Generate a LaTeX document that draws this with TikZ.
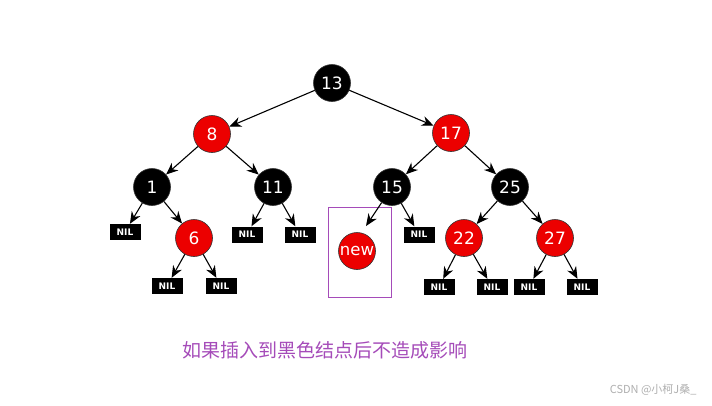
\documentclass[tikz,border=0pt]{standalone}
\usepackage{fontspec}
\setmainfont{DejaVu Sans}
\newfontfamily\cjk{Noto Sans CJK SC}
\usetikzlibrary{arrows.meta}
\definecolor{rbred}{RGB}{236,0,0}
\definecolor{capviolet}{RGB}{165,75,185}
\definecolor{wmgray}{RGB}{175,175,175}
\tikzset{
  blk/.style={circle, fill=black, draw=black!80, line width=0.6pt, minimum size=37pt, inner sep=0pt, text=white, font=\fontsize{17}{17}\selectfont},
  rd/.style={circle, fill=rbred, draw=black!80, line width=0.6pt, minimum size=37pt, inner sep=0pt, text=white, font=\fontsize{17}{17}\selectfont},
  nil/.style={rectangle, fill=black, minimum width=31pt, minimum height=16pt, inner sep=0pt, text=white, font=\fontsize{9}{9}\selectfont\bfseries},
  edge/.style={draw=black, line width=1.1pt, -{Stealth[length=12pt,width=10pt]}},
}
\begin{document}
\begin{tikzpicture}[x=1pt,y=-1pt]
\useasboundingbox (0,0) rectangle (712,405);
\fill[white] (0,0) rectangle (712,405);
% nodes
\node[blk] (n13) at (332,83) {13};
\node[rd]  (n8)  at (212,134) {8};
\node[rd]  (n17) at (451,133) {17};
\node[blk] (n1)  at (152,187) {1};
\node[blk] (n11) at (273,187) {11};
\node[blk] (n15) at (392,187) {15};
\node[blk] (n25) at (510,187) {25};
\node[rd]  (n6)  at (194,238) {6};
\node[rd]  (n22) at (464,238) {22};
\node[rd]  (n27) at (555,238) {27};
\node[rd, font=\fontsize{16.5}{16.5}\selectfont] (nnew) at (357,251) {new};
\node[nil] (l1)  at (125,232) {NIL};
\node[nil] (l11a) at (247,234.5) {NIL};
\node[nil] (l11b) at (300,234.5) {NIL};
\node[nil] (l15) at (419,234.5) {NIL};
\node[nil] (l6a) at (167,286) {NIL};
\node[nil] (l6b) at (221,286) {NIL};
\node[nil] (l22a) at (439,287) {NIL};
\node[nil] (l22b) at (492,287) {NIL};
\node[nil] (l27a) at (529,287) {NIL};
\node[nil] (l27b) at (582,287) {NIL};
\coordinate (newtip) at (366,226);
% purple frame
\node[draw=capviolet, line width=0.8pt, minimum width=63pt, minimum height=90pt, inner sep=0pt] (frame) at (359.5,252) {};
% edges
\draw[edge] (n13) -- (n8);
\draw[edge] (n13) -- (n17);
\draw[edge] (n8) -- (n1);
\draw[edge] (n8) -- (n11);
\draw[edge] (n17) -- (n15);
\draw[edge] (n17) -- (n25);
\draw[edge] (n1) -- (l1);
\draw[edge] (n1) -- (n6);
\draw[edge] (n11) -- (l11a);
\draw[edge] (n11) -- (l11b);
\draw[edge] (n15) -- (newtip);
\draw[edge] (n15) -- (l15);
\draw[edge] (n25) -- (n22);
\draw[edge] (n25) -- (n27);
\draw[edge] (n6) -- (l6a);
\draw[edge] (n6) -- (l6b);
\draw[edge] (n22) -- (l22a);
\draw[edge] (n22) -- (l22b);
\draw[edge] (n27) -- (l27a);
\draw[edge] (n27) -- (l27b);
% caption
\node[text=capviolet, font=\cjk\fontsize{19}{19}\selectfont] (cap) at (325,350) {如果插入到黑色结点后不造成影响};
\node[text=wmgray, font=\cjk\fontsize{11}{11}\selectfont, anchor=east] (wm) at (700,390) {CSDN @小柯J桑\_};
\end{tikzpicture}
\end{document}
